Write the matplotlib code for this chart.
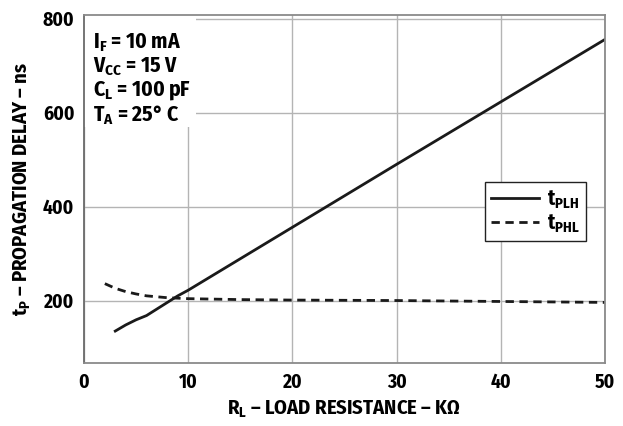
import matplotlib
matplotlib.use("Agg")
import matplotlib.pyplot as plt
from matplotlib.patches import Rectangle

r_plh = [3, 4, 5, 6, 7, 8, 9, 10, 15, 20, 30, 40, 50]
t_plh = [135, 148, 159, 168, 182, 196, 210, 222, 289, 356, 490, 623, 756]

r_phl = [2, 3, 4, 5, 6, 8, 10, 15, 20, 30, 40, 50]
t_phl = [236, 226, 219, 214, 210, 206, 204, 202, 201, 200, 198, 196]

x_ticks = [0, 10, 20, 30, 40, 50]
y_ticks = [200, 400, 600, 800]

conditions = [
    r"I$_{\mathrm{F}}$ = 10 mA",
    r"V$_{\mathrm{CC}}$ = 15 V",
    r"C$_{\mathrm{L}}$ = 100 pF",
    r"T$_{\mathrm{A}}$ = 25° C",
]

font = "Fira Sans Condensed"
plt.rcParams["font.family"] = [font, "DejaVu Sans"]
plt.rcParams["font.weight"] = 700
plt.rcParams["font.stretch"] = "condensed"
plt.rcParams["mathtext.fontset"] = "custom"
plt.rcParams["mathtext.rm"] = f"{font}:bold"
plt.rcParams["mathtext.it"] = f"{font}:bold"
plt.rcParams["mathtext.bf"] = f"{font}:bold"
plt.rcParams["mathtext.sf"] = f"{font}:bold"

fig = plt.figure(figsize=(6.23, 4.26), dpi=100)
ax = fig.add_axes([84 / 623, 1 - 363 / 426, (605 - 84) / 623, (363 - 15) / 426])

ax.plot(r_plh, t_plh, color="#1a1a1a", lw=2.0, label=r"t$_{\mathrm{PLH}}$")
ax.plot(r_phl, t_phl, color="#1a1a1a", lw=2.0, ls=(0, (3, 2)), label=r"t$_{\mathrm{PHL}}$")

ax.set_xlim(0, 50)
ax.set_ylim(67, 808)
ax.set_xticks(x_ticks)
ax.set_yticks(y_ticks)
ax.tick_params(length=0, labelsize=14, pad=7)
for lab in ax.get_xticklabels() + ax.get_yticklabels():
    lab.set_fontweight(700)

ax.grid(True, color="#b4b4b4", lw=1)
ax.set_axisbelow(True)
for s in ax.spines.values():
    s.set_color("#8a8a8a")
    s.set_linewidth(1.3)
ax.spines["left"].set_color("#6a6a6a")

# white patch for the test conditions (hides the grid behind it)
ax.add_patch(Rectangle((0, 0.677), 0.215, 0.33, transform=ax.transAxes,
                       fc="white", ec="none", zorder=1.5))
for i, line in enumerate(conditions):
    ax.text(0.017, 0.92 - i * 0.069, line, transform=ax.transAxes,
            fontsize=15.5, fontweight=700, va="center", ha="left", zorder=3)

leg = ax.legend(loc="upper left", bbox_to_anchor=(0.77, 0.52), fontsize=15,
                frameon=True, fancybox=False, handlelength=2.3, borderpad=0.3,
                labelspacing=0.05, handletextpad=0.35, borderaxespad=0)
leg.get_frame().set_edgecolor("#222222")
leg.get_frame().set_linewidth(1.0)
leg.get_frame().set_alpha(1)

ax.set_xlabel(r"R$_{\mathrm{L}}$ – LOAD RESISTANCE – K$\Omega$", fontsize=14.8,
              fontweight=700, labelpad=5)
ax.set_ylabel(r"t$_{\mathrm{P}}$ – PROPAGATION DELAY – ns", fontsize=14.8,
              fontweight=700, labelpad=7)

fig.savefig("out.png", dpi=100)
